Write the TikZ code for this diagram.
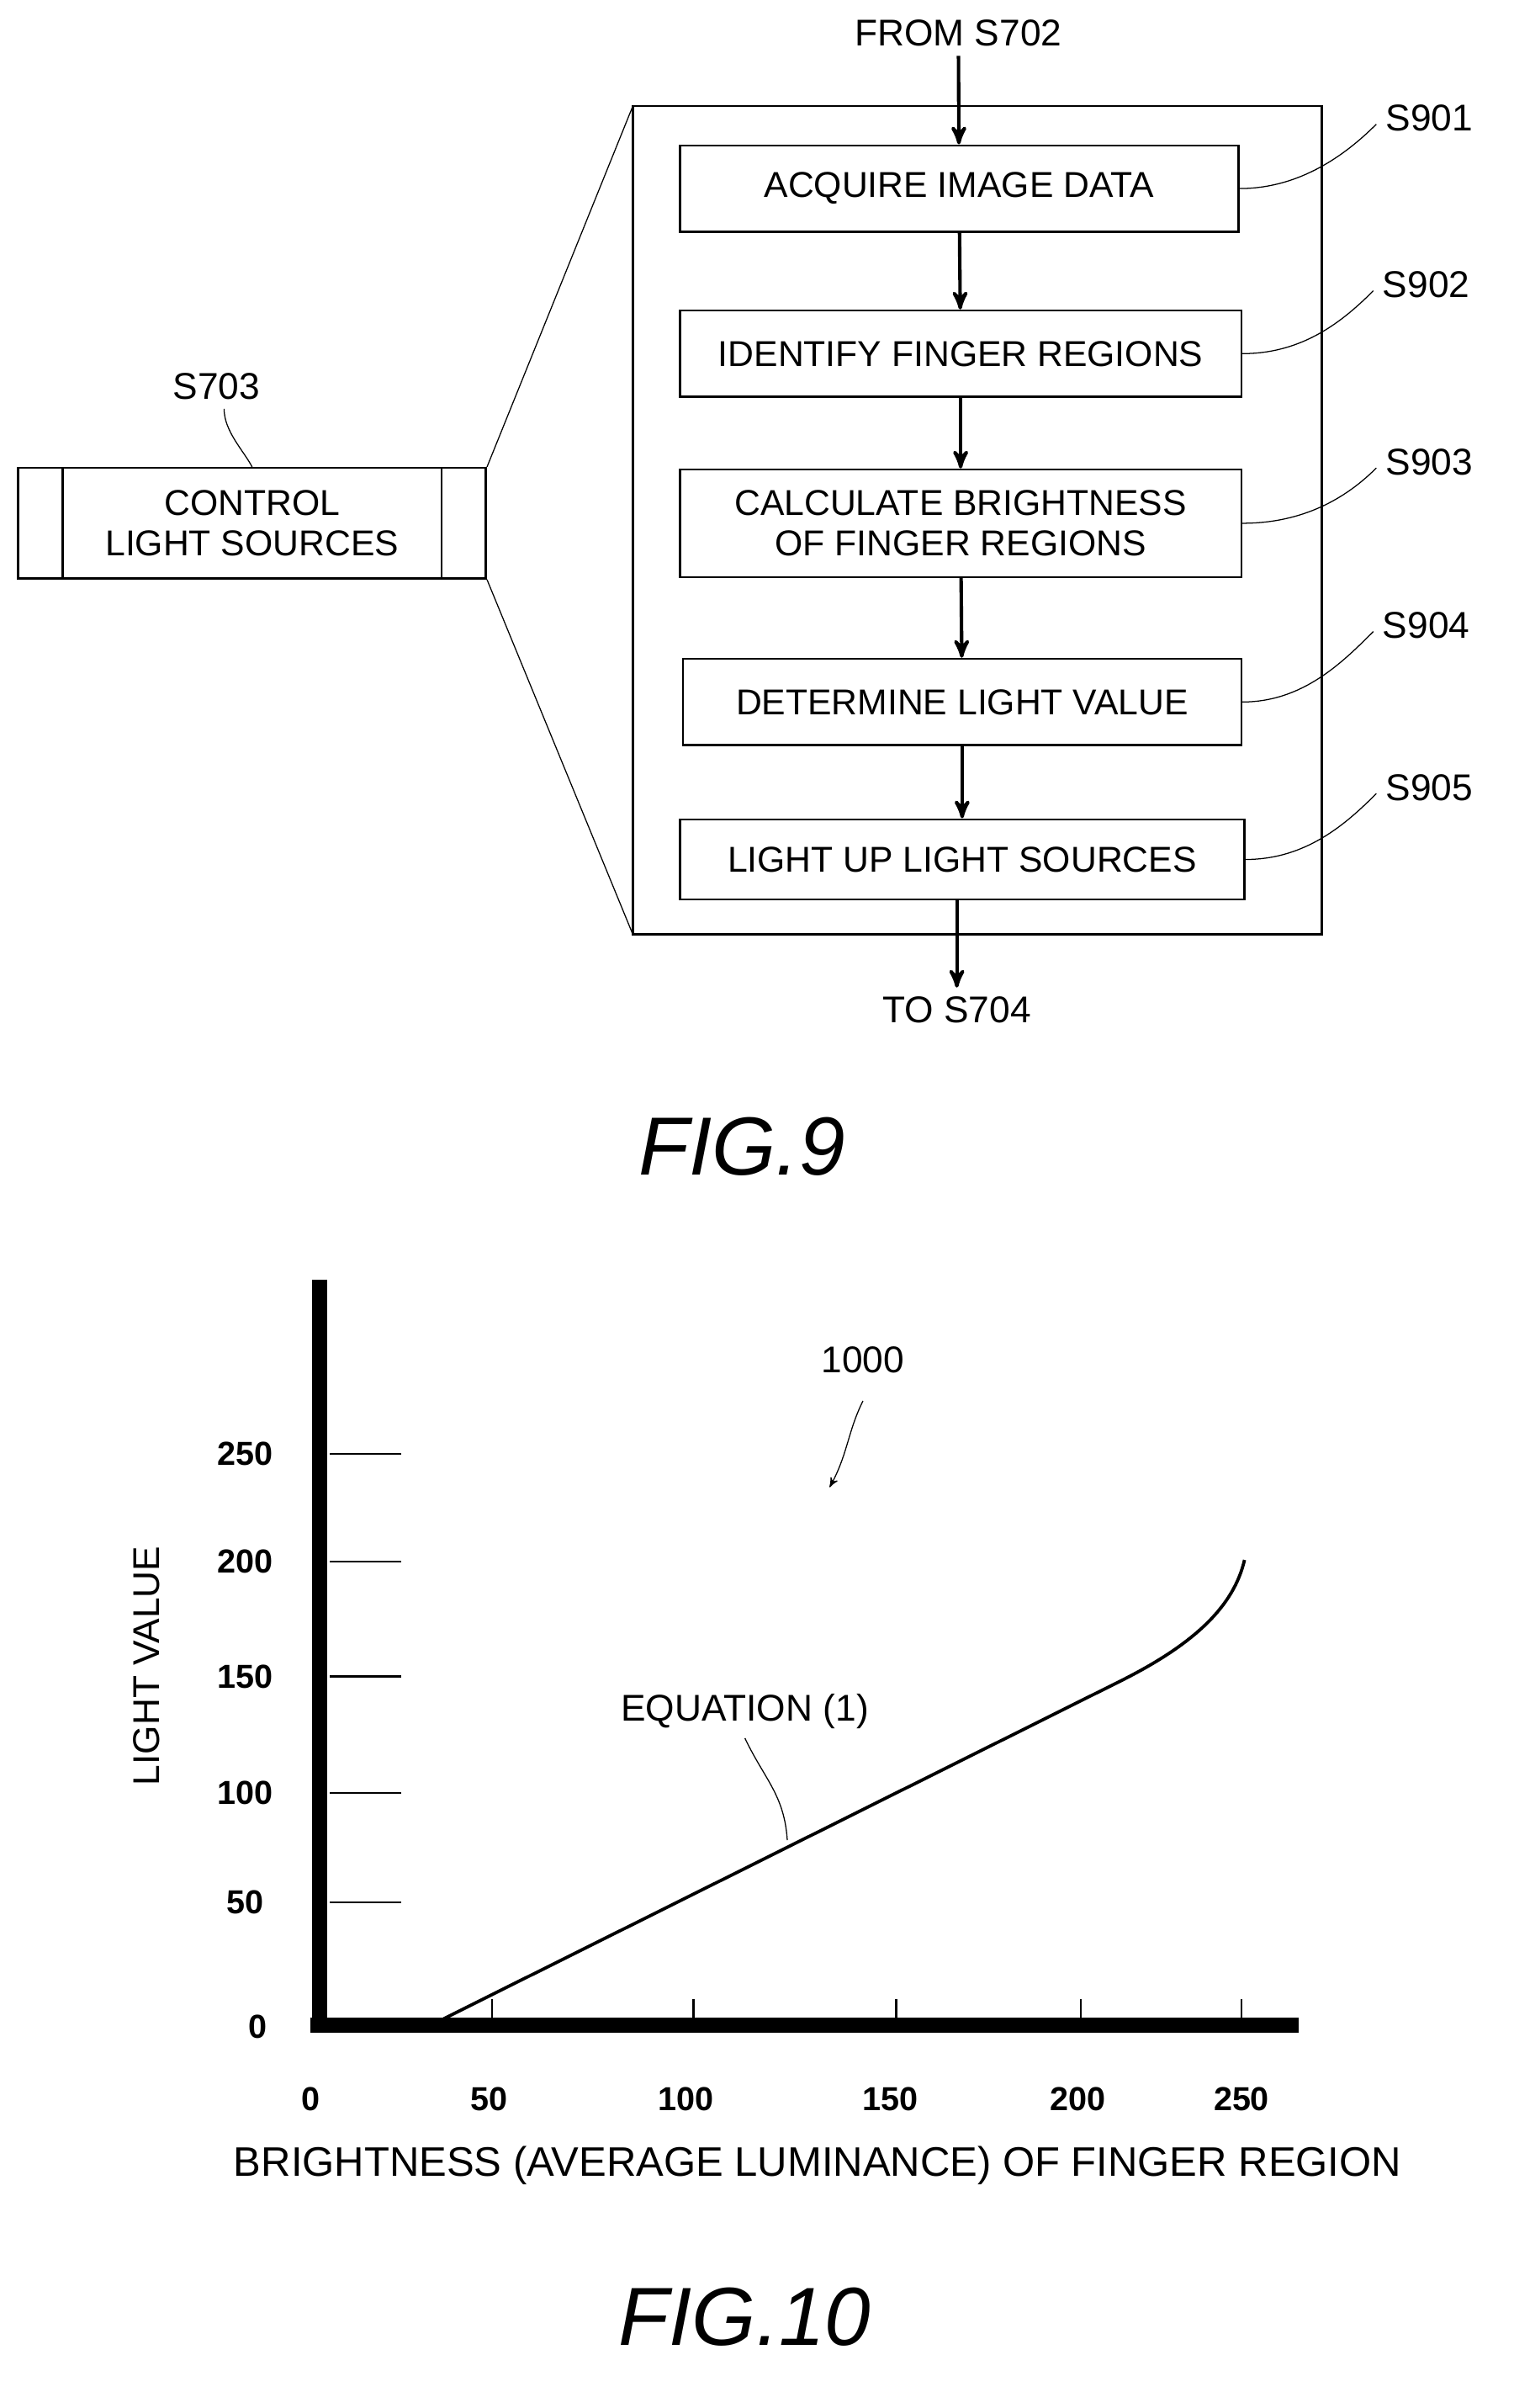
\documentclass[tikz,border=0pt]{standalone}
\usepackage{fontspec}
\setmainfont{Liberation Sans}
\usetikzlibrary{arrows,calc,positioning}
\tikzset{
  stepbox/.style={draw, thick, fill=white, inner sep=0pt, font=\fontsize{13.5}{15}\selectfont, align=center},
  lbl/.style={font=\fontsize{14}{16}\selectfont},
  ticklbl/.style={font=\bfseries\fontsize{12.5}{14}\selectfont},
  lead/.style={thin},
  flow/.style={->, >=stealth', line width=1.3pt}
}
\begin{document}
\begin{tikzpicture}[x=0.02cm, y=-0.02cm]
  \useasboundingbox (0,0) rectangle (1000,1590);
  % FIG.9
  \draw[thick] (418,70) rectangle (873,617);
  \node[stepbox] (a) at (633.5,124.5) [minimum width=7.38cm, minimum height=1.14cm] {ACQUIRE IMAGE DATA};
  \node[stepbox] (b) at (634.5,233.5) [minimum width=7.42cm, minimum height=1.14cm] {IDENTIFY FINGER REGIONS};
  \node[stepbox] (c) at (634.5,345.5) [minimum width=7.42cm, minimum height=1.42cm] {CALCULATE BRIGHTNESS\\OF FINGER REGIONS};
  \node[stepbox] (d) at (635.5,463.5) [minimum width=7.38cm, minimum height=1.14cm] {DETERMINE LIGHT VALUE};
  \node[stepbox] (e) at (635.5,567.5) [minimum width=7.46cm, minimum height=1.06cm] {LIGHT UP LIGHT SOURCES};
  \node[lbl] (from) at (633,22) {FROM S702};
  \node[lbl] (to) at (632,667) {TO S704};
  \draw[flow] (from) -- (a);
  \draw[flow] (a) -- (b);
  \draw[flow] (b) -- (c);
  \draw[flow] (c) -- (d);
  \draw[flow] (d) -- (e);
  \draw[flow] (e.south -| to.north) -- (to);
  \node[lbl] (s1) at (944,78) {S901};
  \node[lbl] (s2) at (942,188) {S902};
  \node[lbl] (s3) at (944,305) {S903};
  \node[lbl] (s4) at (942,413) {S904};
  \node[lbl] (s5) at (944,520) {S905};
  \foreach \b/\s in {a/s1,b/s2,c/s3,d/s4,e/s5}
    \draw[lead] (\b.east) .. controls +(40,0) and +(-20,20) .. ($(\s.west)+(0,4)$);
  % S703
  \node[stepbox, minimum width=6.18cm, minimum height=1.46cm] (m) at (166.5,345.5) {CONTROL\\LIGHT SOURCES};
  \draw[thick] ($(m.north west)+(30,0)$) -- ($(m.south west)+(30,0)$);
  \draw[thick] ($(m.north east)+(-30,0)$) -- ($(m.south east)+(-30,0)$);
  \node[lbl] (s7) at (143,255) {S703};
  \draw[lead] ($(s7.south)+(5,0)$) .. controls +(0,15) and +(-5,-10) .. (m.north);
  \draw[thin] (m.north east) -- (418,70);
  \draw[thin] (m.south east) -- (418,617);
  \node[font=\itshape\fontsize{31}{35}\selectfont] (f9) at (490,757) {FIG.9};
  % FIG.10
  \draw[line width=0.2cm] (211,845) -- (211,1342);
  \draw[line width=0.2cm] (205,1337) -- (858,1337);
  \foreach \y/\v in {960/250,1031/200,1107/150,1184/100,1256/50} {
    \draw[thick] (218,\y) -- (265,\y);
    \node[ticklbl] at (162,\y) {\v};
  }
  \node[ticklbl] at (170,1338) {0};
  \foreach \x in {325,458,592,714,820}
    \draw[thick] (\x,1320) -- (\x,1337);
  \foreach \x/\v in {205/0,323/50,453/100,588/150,712/200,820/250}
    \node[ticklbl] at (\x,1386) {\v};
  \draw[line width=1.2pt] (293,1333) -- (740,1110) .. controls (790,1085) and (815,1060) .. (822,1030);
  \node[lbl] (eq) at (492,1130) {EQUATION (1)};
  \draw[lead] (520,1215) .. controls (518,1185) and (505,1175) .. (eq.south);
  \node[lbl] (n1000) at (570,898) {1000};
  \draw[lead, ->, >=stealth'] (570,925) .. controls (560,945) and (560,960) .. (548,982);
  \node[lbl, rotate=90] (yl) at (97,1100) {LIGHT VALUE};
  \node[font=\fontsize{15.5}{18}\selectfont] (xl) at (540,1430) {BRIGHTNESS (AVERAGE LUMINANCE) OF FINGER REGION};
  \node[font=\itshape\fontsize{31}{35}\selectfont] (f10) at (492,1530) {FIG.10};
\end{tikzpicture}
\end{document}
